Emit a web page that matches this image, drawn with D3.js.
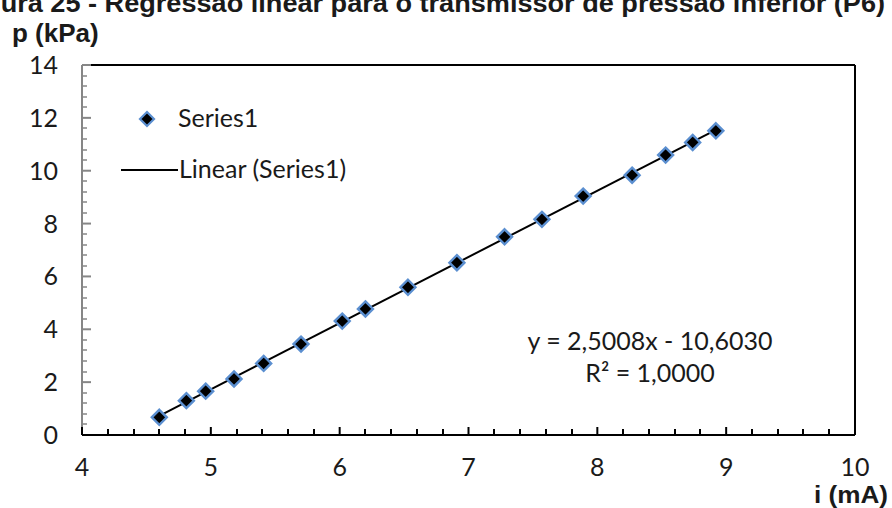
<!DOCTYPE html>
<html>
<head>
<meta charset="utf-8">
<script src="https://cdn.jsdelivr.net/npm/d3@7"></script>
<style>
  body { margin: 0; background: #fff; }
  text { fill: #1a1a1a; }
  .tick-label { font-family: Lato, "Open Sans", sans-serif; font-size: 25px; }
  .bold { font-family: "Liberation Sans", Arial, sans-serif; font-weight: bold; }
</style>
</head>
<body>
<div id="container"></div>
<script>
// readings: current (mA) and pressure (kPa)
const current  = [4.60, 4.81, 4.96, 5.18, 5.41, 5.70, 6.02, 6.20, 6.53, 6.91, 7.28, 7.57, 7.89, 8.27, 8.53, 8.74, 8.92];
const pressure = [0.67, 1.30, 1.66, 2.12, 2.71, 3.44, 4.31, 4.77, 5.59, 6.52, 7.50, 8.16, 9.04, 9.83, 10.59, 11.07, 11.51];
const xTicks = [4, 5, 6, 7, 8, 9, 10];
const yTicks = [0, 2, 4, 6, 8, 10, 12, 14];
const equation = "y = 2,5008x - 10,6030";
const rSquared = "R² = 1,0000";

const w = 892, h = 508;
const padL = 82, padR = 855, padT = 65, padB = 435;

const data = current.map((c, i) => [c, pressure[i]]);

const xScale = d3.scaleLinear().domain([4, 10]).range([padL, padR]);
const yScale = d3.scaleLinear().domain([0, 14]).range([padB, padT]);

const svg = d3.select("#container").append("svg")
  .attr("width", w).attr("height", h);

// title, cut at the top and left edges of the picture as in the source
svg.append("text").attr("class", "bold")
  .attr("x", -40).attr("y", 12)
  .style("font-size", "26px")
  .attr("textLength", 925).attr("lengthAdjust", "spacingAndGlyphs")
  .text("Figura 25 - Regressão linear para o transmissor de pressão inferior (P6)");

svg.append("text").attr("class", "bold")
  .attr("x", 12).attr("y", 42).style("font-size", "26px")
  .text("p (kPa)");

svg.append("text").attr("class", "bold")
  .attr("x", 888).attr("y", 503).attr("text-anchor", "end").style("font-size", "23px")
  .attr("textLength", 74).attr("lengthAdjust", "spacingAndGlyphs")
  .text("i (mA)");

// frame: top and right
svg.append("line").attr("x1", padL + 9).attr("x2", padR).attr("y1", padT).attr("y2", padT)
  .attr("stroke", "#000").attr("stroke-width", 2);
svg.append("line").attr("x1", padR).attr("x2", padR).attr("y1", padT).attr("y2", padB)
  .attr("stroke", "#000").attr("stroke-width", 2);

// y axis (gray, ticks inside)
const yMinor = d3.range(0, 14.01, 0.4).filter(v => Math.abs(v / 2 - Math.round(v / 2)) > 0.01);
const gy = svg.append("g");
gy.append("line").attr("x1", padL).attr("x2", padL).attr("y1", padT).attr("y2", padB)
  .attr("stroke", "#868686").attr("stroke-width", 2);
gy.selectAll(".ymaj").data(yTicks).enter().append("line")
  .attr("x1", padL).attr("x2", padL + 9)
  .attr("y1", d => yScale(d)).attr("y2", d => yScale(d))
  .attr("stroke", "#868686").attr("stroke-width", 2);
gy.selectAll(".ymin").data(yMinor).enter().append("line")
  .attr("x1", padL).attr("x2", padL + 5)
  .attr("y1", d => Math.round(yScale(d))).attr("y2", d => Math.round(yScale(d)))
  .attr("stroke", "#868686").attr("stroke-width", 1.5);
gy.selectAll(".ylab").data(yTicks).enter().append("text")
  .attr("class", "tick-label")
  .attr("x", 58).attr("y", d => yScale(d) + 9)
  .attr("text-anchor", "end").text(d => d);

// x axis (black, ticks inside)
const xMinor = d3.range(4, 10.001, 0.2).filter(v => Math.abs(v - Math.round(v)) > 0.01);
const gx = svg.append("g");
gx.selectAll(".xmaj").data(xTicks).enter().append("line")
  .attr("x1", d => xScale(d)).attr("x2", d => xScale(d))
  .attr("y1", padB).attr("y2", padB - 8)
  .attr("stroke", "#000").attr("stroke-width", 2);
gx.selectAll(".xmin").data(xMinor).enter().append("line")
  .attr("x1", d => Math.round(xScale(d))).attr("x2", d => Math.round(xScale(d)))
  .attr("y1", padB).attr("y2", padB - 6)
  .attr("stroke", "#000").attr("stroke-width", 2);
gx.append("line").attr("x1", padL).attr("x2", padR).attr("y1", padB).attr("y2", padB)
  .attr("stroke", "#000").attr("stroke-width", 2);
gx.selectAll(".xlab").data(xTicks).enter().append("text")
  .attr("class", "tick-label")
  .attr("x", d => xScale(d)).attr("y", 476)
  .attr("text-anchor", "middle").text(d => d);

// least squares trendline through the points
const mx = d3.mean(current), my = d3.mean(pressure);
const slope = d3.sum(data, d => (d[0] - mx) * (d[1] - my)) / d3.sum(data, d => (d[0] - mx) ** 2);
const icept = my - slope * mx;
const xEnds = d3.extent(current);
svg.append("line")
  .attr("x1", xScale(xEnds[0])).attr("y1", yScale(slope * xEnds[0] + icept))
  .attr("x2", xScale(xEnds[1])).attr("y2", yScale(slope * xEnds[1] + icept))
  .attr("stroke", "#000").attr("stroke-width", 2);

// markers
const diamond = s => `M0,${-s}L${s},0L0,${s}L${-s},0Z`;
svg.selectAll(".pt").data(data).enter().append("path")
  .attr("d", diamond(7.5))
  .attr("transform", d => `translate(${xScale(d[0])},${yScale(d[1])})`)
  .attr("fill", "#000").attr("stroke", "#5b8fd0").attr("stroke-width", 2.4);

// legend
svg.append("path").attr("d", diamond(7))
  .attr("transform", "translate(147,119)")
  .attr("fill", "#000").attr("stroke", "#5b8fd0").attr("stroke-width", 2.2);
svg.append("text").attr("class", "tick-label").attr("x", 178).attr("y", 127).text("Series1");
svg.append("line").attr("x1", 121).attr("x2", 178).attr("y1", 170).attr("y2", 170)
  .attr("stroke", "#000").attr("stroke-width", 2);
svg.append("text").attr("class", "tick-label").attr("x", 179).attr("y", 178).text("Linear (Series1)");

// equation
svg.append("text").attr("class", "tick-label").attr("x", 650).attr("y", 350)
  .attr("text-anchor", "middle").text(equation);
svg.append("text").attr("class", "tick-label").attr("x", 650).attr("y", 382)
  .attr("text-anchor", "middle").text(rSquared);
</script>
</body>
</html>
